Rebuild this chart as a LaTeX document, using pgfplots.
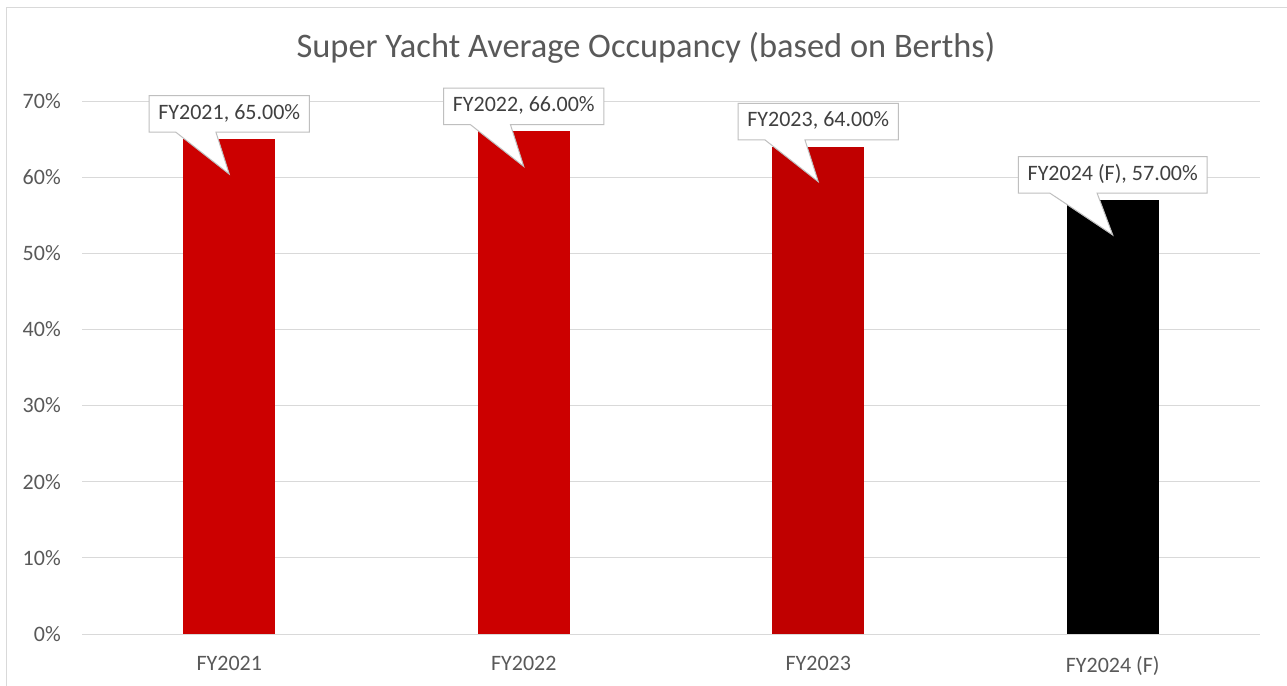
\documentclass[border=0pt]{standalone}
\usepackage{pgfplots}
\pgfplotsset{compat=1.18}
\usepackage{fontspec}
\setmainfont{Carlito}
\usetikzlibrary{calc}
\definecolor{redA}{HTML}{CC0000}
\definecolor{redB}{HTML}{C00000}
\definecolor{gridc}{HTML}{D9D9D9}
\definecolor{txt}{HTML}{595959}
\definecolor{lbl}{HTML}{404040}
\definecolor{callb}{HTML}{BFBFBF}

\newcommand{\callout}[3]{%
  \node[font=\fontsize{16.5}{19.8}\selectfont, inner xsep=6.75pt, inner ysep=0pt,
        minimum height=27pt, text height=11pt, text depth=3pt] (c) at (axis cs:#1,#2+3.3) {#3};
  \filldraw[fill=white, draw=callb, line width=0.75pt]
    (c.north west) -- (c.north east) -- (c.south east)
    -- ($(c.south west)!0.417!(c.south east)$)
    -- (axis cs:#1,#2-4.6)
    -- ($(c.south west)!0.167!(c.south east)$)
    -- (c.south west) -- cycle;
  \node[lbl, font=\fontsize{16.5}{19.8}\selectfont, inner xsep=6.75pt, inner ysep=0pt,
        minimum height=27pt, text height=11pt, text depth=3pt] at (c.center) {#3};
}

\begin{document}
\begin{tikzpicture}[x=0.75pt,y=0.75pt]
\useasboundingbox (0,0) rectangle (1287,685);
\fill[white] (0,0) rectangle (1287,685);
\draw[gridc, line width=0.75pt] (6,-20) -- (6,677) -- (1300,677);
\node[txt, font=\fontsize{25.8}{31}\selectfont, inner sep=0pt] at (646,637) {Super Yacht Average Occupancy (based on Berths)};
\begin{axis}[
  at={(61.5pt,38.25pt)}, anchor=south west,
  scale only axis, width=883.5pt, height=399.75pt,
  ybar, bar width=0.3125, bar shift=0pt,
  xmin=-0.5, xmax=3.5, ymin=0, ymax=70,
  xtick={0,1,2,3}, xticklabels={FY2021,FY2022,FY2023,FY2024 (F)},
  ytick={0,10,...,70},
  yticklabel={\pgfmathprintnumber{\tick}\%},
  /pgf/number format/assume math mode=true,
  ymajorgrids, grid style={gridc, line width=0.75pt},
  axis line style={draw=none}, tick style={draw=none},
  major tick length=0pt,
  ticklabel style={txt, font=\fontsize{16.5}{19.8}\selectfont},
  yticklabel style={inner xsep=0pt, xshift=-15.75pt},
  xticklabel style={inner ysep=0pt, yshift=-16.25pt},
  clip=false,
]
\addplot[fill=redA, draw=none] coordinates {(0,65)};
\addplot[fill=redA, draw=none] coordinates {(1,66)};
\addplot[fill=redB, draw=none] coordinates {(2,64)};
\addplot[fill=black, draw=none] coordinates {(3,57)};
\callout{0}{65}{FY2021, 65.00\%}
\callout{1}{66}{FY2022, 66.00\%}
\callout{2}{64}{FY2023, 64.00\%}
\callout{3}{57}{FY2024 (F), 57.00\%}
\end{axis}
\end{tikzpicture}
\end{document}
